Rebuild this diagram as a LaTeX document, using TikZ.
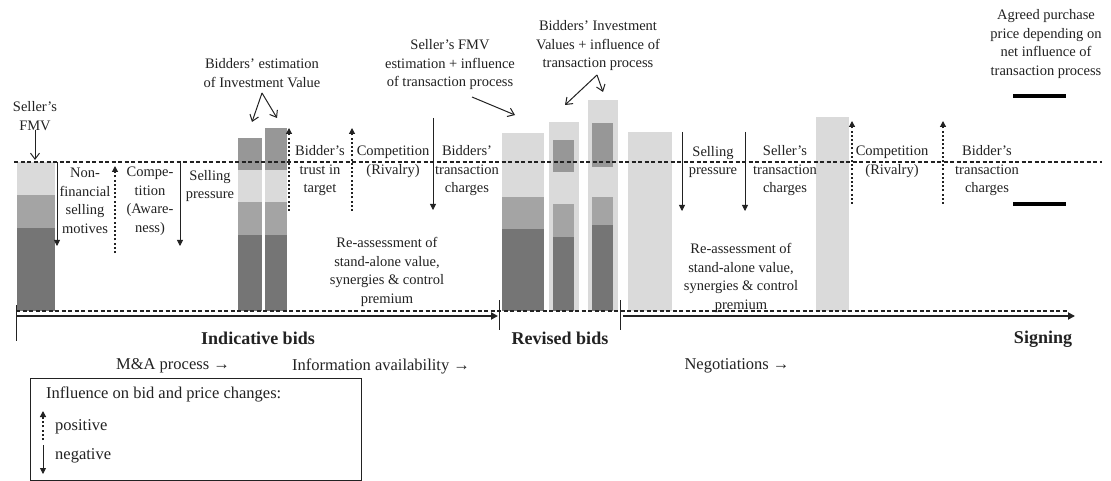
\documentclass[tikz,border=0pt]{standalone}
\usepackage{fontspec}
\setmainfont{Liberation Serif}
\usetikzlibrary{arrows.meta}
\definecolor{lgray}{HTML}{DADADA}
\definecolor{mgray}{HTML}{A4A4A4}
\definecolor{tgray}{HTML}{979797}
\definecolor{dgray}{HTML}{757575}
\definecolor{ink}{HTML}{222222}
\tikzset{
  lab/.style={align=center, inner sep=0pt, text=ink, font=\fontsize{14.5}{18.5}\selectfont},
  biglab/.style={align=center, inner sep=0pt, text=ink, font=\fontsize{16.5}{19}\selectfont},
  boldlab/.style={align=center, inner sep=0pt, text=ink, font=\fontsize{18}{20}\selectfont\bfseries},
  dashln/.style={draw=ink, line width=1.5pt, dash pattern=on 4pt off 2.5pt},
  posarrow/.style={draw=ink, line width=1.2pt, dash pattern=on 2pt off 2.2pt, -{Triangle[width=6pt,length=6pt]}},
  negarrow/.style={draw=ink, line width=0.8pt, -{Triangle[width=6pt,length=6pt]}},
  pointer/.style={draw=ink, line width=1pt, -{Straight Barb[length=6pt,width=9pt]}},
  axisln/.style={draw=ink, line width=1.8pt, -{Triangle[width=7pt,length=7pt]}},
  tickln/.style={draw=ink, line width=1pt},
  pricebar/.style={draw=black, line width=3.5pt}
}
\begin{document}
\begin{tikzpicture}[x=1pt,y=-1pt]
\useasboundingbox[fill=white] (0,0) rectangle (1111,481);

% ---- bars ----
% seller's FMV bar
\fill[lgray] (17,162) rectangle (55,195);
\fill[mgray] (17,195) rectangle (55,228);
\fill[dgray] (17,228) rectangle (55,311);
% indicative bids
\fill[tgray] (238,138) rectangle (262,170);
\fill[lgray] (238,170) rectangle (262,202);
\fill[mgray] (238,202) rectangle (262,235);
\fill[dgray] (238,235) rectangle (262,311);
\fill[tgray] (265,128) rectangle (287,170);
\fill[lgray] (265,170) rectangle (287,202);
\fill[mgray] (265,202) rectangle (287,235);
\fill[dgray] (265,235) rectangle (287,311);
% revised bids
\fill[lgray] (502,133) rectangle (544,197);
\fill[mgray] (502,197) rectangle (544,229);
\fill[dgray] (502,229) rectangle (544,311);
\fill[lgray] (549,122) rectangle (579,311);
\fill[tgray] (553,140) rectangle (574,172);
\fill[mgray] (553,204) rectangle (574,237);
\fill[dgray] (553,237) rectangle (574,311);
\fill[lgray] (588,100) rectangle (618,311);
\fill[tgray] (592,123) rectangle (613,167);
\fill[mgray] (592,197) rectangle (613,225);
\fill[dgray] (592,225) rectangle (613,311);
% negotiations
\fill[lgray] (628,132) rectangle (672,311);
\fill[lgray] (816,117) rectangle (849,311);

% ---- text over bars area ----
\node[lab] (reass1) at (387,272) {Re-assessment of\\stand-alone value,\\synergies \& control\\premium};
\node[lab] (reass2) at (741,278) {Re-assessment of\\stand-alone value,\\synergies \& control\\premium};

% ---- reference lines ----
\coordinate (dl1) at (14,162);
\coordinate (dl2) at (1102,162);
\draw[dashln] (dl1) -- (dl2);
\coordinate (bl1) at (16,311);
\coordinate (bl2) at (1068,311);
\draw[dashln] (bl1) -- (bl2);

% ---- axis ----
\coordinate (ax1s) at (16,316);
\coordinate (ax1e) at (498,316);
\draw[axisln] (ax1s) -- (ax1e);
\coordinate (ax2s) at (623,316);
\coordinate (ax2e) at (1075,316);
\draw[axisln] (ax2s) -- (ax2e);
\coordinate (t1a) at (16,305); \coordinate (t1b) at (16,341);
\draw[tickln] (t1a) -- (t1b);
\coordinate (t2a) at (499,300); \coordinate (t2b) at (499,330);
\draw[tickln] (t2a) -- (t2b);
\coordinate (t3a) at (620,300); \coordinate (t3b) at (620,330);
\draw[tickln] (t3a) -- (t3b);

% ---- price bars ----
\coordinate (pb1a) at (1013,96); \coordinate (pb1b) at (1066,96);
\draw[pricebar] (pb1a) -- (pb1b);
\coordinate (pb2a) at (1013,204); \coordinate (pb2b) at (1066,204);
\draw[pricebar] (pb2a) -- (pb2b);

% ---- labels top ----
\node[lab] (sfmv) at (35,116) {Seller’s\\FMV};
\coordinate (sfmvtip) at (35,160);
\draw[pointer] (sfmv.south) ++(0,-1) -- (sfmvtip);

\node[lab] (nonfin) at (85,201) {Non-\\financial\\selling\\motives};
\node[lab] (compaw) at (150,201) {Compe-\\tition\\(Aware-\\ness)};
\node[lab] (sellp1) at (210,186) {Selling\\pressure};

\node[lab] (bidest) at (262,73) {Bidders’ estimation\\of Investment Value};
\coordinate (bidapex) at (262,93);
\coordinate (bidtipa) at (252,122);
\coordinate (bidtipb) at (277,118);
\draw[pointer] (bidapex) -- (bidtipa);
\draw[pointer] (bidapex) -- (bidtipb);

\node[lab] (trust) at (320,171) {Bidder’s\\trust in\\target};
\node[lab] (comp1) at (393,162) {Competition\\(Rivalry)};
\node[lab] (btc1) at (467,171) {Bidders’\\transaction\\charges};

\node[lab] (sfmvest) at (450,65) {Seller’s FMV\\estimation + influence\\of transaction process};
\coordinate (sfa) at (472,97);
\coordinate (sfb) at (515,115);
\draw[pointer] (sfa) -- (sfb);

\node[lab] (bidinv) at (598,46) {Bidders’ Investment\\Values + influence of\\transaction process};
\coordinate (biapex) at (597,75);
\coordinate (bitipa) at (565,105);
\coordinate (bitipb) at (603,92);
\draw[pointer] (biapex) -- (bitipa);
\draw[pointer] (biapex) -- (bitipb);

\node[lab] (sellp2) at (713,162) {Selling\\pressure};
\node[lab] (stc) at (785,171) {Seller’s\\transaction\\charges};
\node[lab] (comp2) at (892,162) {Competition\\(Rivalry)};
\node[lab] (btc2) at (987,171) {Bidder’s\\transaction\\charges};
\node[lab] (agreed) at (1046,44) {Agreed purchase\\price depending on\\net influence of\\transaction process};

% ---- influence arrows ----
\coordinate (n1a) at (57,162); \coordinate (n1b) at (57,246);
\draw[negarrow] (n1a) -- (n1b);
\coordinate (p1a) at (115,253); \coordinate (p1b) at (115,166);
\draw[posarrow] (p1a) -- (p1b);
\coordinate (n2a) at (180,162); \coordinate (n2b) at (180,246);
\draw[negarrow] (n2a) -- (n2b);
\coordinate (p2a) at (289,211); \coordinate (p2b) at (289,128);
\draw[posarrow] (p2a) -- (p2b);
\coordinate (p3a) at (352,211); \coordinate (p3b) at (352,128);
\draw[posarrow] (p3a) -- (p3b);
\coordinate (n3a) at (433,118); \coordinate (n3b) at (433,210);
\draw[negarrow] (n3a) -- (n3b);
\coordinate (n4a) at (682,132); \coordinate (n4b) at (682,211);
\draw[negarrow] (n4a) -- (n4b);
\coordinate (n5a) at (745,132); \coordinate (n5b) at (745,211);
\draw[negarrow] (n5a) -- (n5b);
\coordinate (p4a) at (852,204); \coordinate (p4b) at (852,121);
\draw[posarrow] (p4a) -- (p4b);
\coordinate (p5a) at (943,204); \coordinate (p5b) at (943,121);
\draw[posarrow] (p5a) -- (p5b);

% ---- phase labels ----
\node[boldlab] (ind) at (258,338) {Indicative bids};
\node[boldlab] (rev) at (560,338) {Revised bids};
\node[boldlab] (sign) at (1043,339) {Signing};
\node[biglab] (mna) at (173,366) {M\&A process →};
\node[biglab] (info) at (381,366) {Information availability →};
\node[biglab] (nego) at (737,366) {Negotiations →};

% ---- legend ----
\node[draw=ink, line width=0.9pt, minimum width=331pt, minimum height=102pt, inner sep=0pt, anchor=north west] (legend) at (30,378) {};
\node[biglab, anchor=west] (legtitle) at (46,394) {Influence on bid and price changes:};
\node[biglab, anchor=west] (legpos) at (55,427) {positive};
\node[biglab, anchor=west] (legneg) at (55,456) {negative};
\coordinate (lpa) at (43,440); \coordinate (lpb) at (43,411);
\draw[posarrow] (lpa) -- (lpb);
\coordinate (lna) at (43,445); \coordinate (lnb) at (43,474);
\draw[negarrow] (lna) -- (lnb);
\end{tikzpicture}
\end{document}
